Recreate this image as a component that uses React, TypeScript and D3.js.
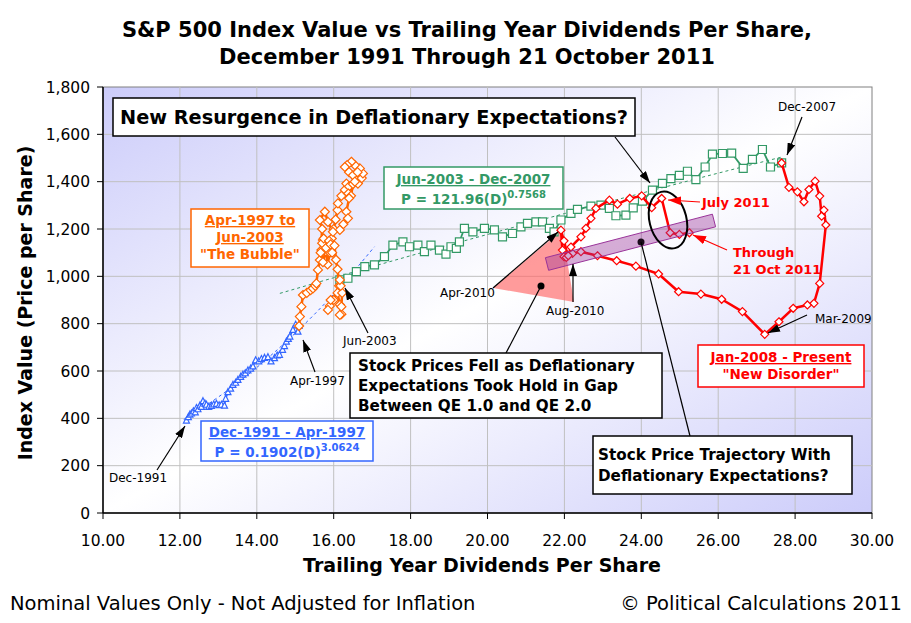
import React from 'react';
import * as d3 from 'd3';

const W = 911;
const H = 623;

const xTicks = [10, 12, 14, 16, 18, 20, 22, 24, 26, 28, 30];
const yTicks = [0, 200, 400, 600, 800, 1000, 1200, 1400, 1600, 1800];

// Dec-1991 to Apr-1997 (dividends, index)
const bluePoints: [number, number][] = [
  [12.17, 390], [12.22, 405], [12.26, 415], [12.3, 420], [12.35, 429], [12.4, 425],
  [12.43, 443], [12.47, 438], [12.52, 453], [12.56, 448], [12.6, 472], [12.65, 462],
  [12.69, 457], [12.75, 448], [12.82, 452], [12.88, 458], [12.95, 461], [13.02, 455],
  [13.08, 457], [13.16, 453], [13.19, 482], [13.25, 510], [13.32, 525], [13.38, 541],
  [13.45, 550], [13.51, 562], [13.58, 575], [13.64, 584], [13.7, 590], [13.77, 602],
  [13.84, 610], [13.9, 619], [13.97, 645], [14.05, 640], [14.12, 650], [14.2, 655],
  [14.29, 658], [14.37, 640], [14.46, 654], [14.53, 665], [14.59, 668], [14.67, 689],
  [14.72, 705], [14.77, 724], [14.82, 735], [14.86, 745], [14.94, 773], [15.01, 795],
  [15.07, 766], [15.1, 790],
];

// Apr-1997 to Jun-2003, "The Bubble"
const orangePoints: [number, number][] = [
  [15.1, 790], [15.12, 830], [15.16, 872], [15.2, 921], [15.3, 930], [15.4, 942],
  [15.46, 949], [15.52, 960], [15.55, 970], [15.59, 1027], [15.64, 1069], [15.68, 1111],
  [15.72, 1153], [15.7, 1140], [15.74, 1160], [15.8, 1105], [15.84, 1050], [15.9, 1100],
  [15.95, 1160], [16.0, 1200], [16.05, 1240], [16.1, 1280], [16.11, 1308], [16.2, 1340],
  [16.29, 1365], [16.33, 1392], [16.4, 1380], [16.38, 1350], [16.45, 1340], [16.5, 1390],
  [16.6, 1410], [16.63, 1392], [16.73, 1415], [16.76, 1435], [16.68, 1456], [16.55, 1470],
  [16.46, 1484], [16.35, 1470], [16.29, 1462], [16.4, 1440], [16.5, 1427], [16.62, 1440],
  [16.55, 1400], [16.4, 1330], [16.33, 1273], [16.37, 1245], [16.25, 1220], [16.16, 1196],
  [15.98, 1188], [15.85, 1230], [15.77, 1273], [15.64, 1238], [15.7, 1200], [15.66, 1100],
  [15.72, 1060], [15.8, 1120], [15.88, 1150], [15.92, 1135], [15.96, 1100], [16.02, 1130],
  [16.06, 1070], [16.1, 1030], [16.14, 960], [16.0, 900], [15.9, 875], [15.85, 858],
  [15.92, 900], [16.1, 930], [16.16, 880], [16.2, 840], [16.16, 837], [16.2, 872],
  [16.22, 930], [16.18, 960], [16.16, 985],
];

// Jun-2003 to Dec-2007
const greenPoints: [number, number][] = [
  [16.16, 985], [16.37, 992], [16.59, 1020], [16.81, 1041], [17.06, 1048], [17.32, 1083],
  [17.54, 1132], [17.8, 1146], [17.97, 1125], [18.19, 1132], [18.36, 1104], [18.53, 1132],
  [18.75, 1111], [18.92, 1094], [19.05, 1125], [19.19, 1118], [19.27, 1146], [19.4, 1203],
  [19.62, 1188], [19.92, 1203], [20.18, 1196], [20.39, 1167], [20.65, 1181], [20.87, 1209],
  [21.04, 1224], [21.26, 1230], [21.43, 1230], [21.61, 1203], [21.73, 1188], [21.91, 1238],
  [22.17, 1266], [22.34, 1283], [22.69, 1297], [22.95, 1301], [23.17, 1287], [23.34, 1256],
  [23.6, 1259], [23.79, 1289], [24.03, 1318], [24.29, 1364], [24.55, 1393], [24.77, 1413],
  [24.99, 1427], [25.2, 1444], [25.42, 1409], [25.66, 1462], [25.85, 1516], [26.11, 1519],
  [26.35, 1521], [26.65, 1456], [26.89, 1494], [27.15, 1536], [27.36, 1462], [27.65, 1479],
];

// Jan-2008 to 21 Oct 2011, "New Disorder"
const redPoints: [number, number][] = [
  [27.65, 1479], [27.84, 1376], [28.06, 1357], [28.23, 1315], [28.36, 1367], [28.52, 1402],
  [28.64, 1339], [28.69, 1254], [28.75, 1280], [28.8, 1217], [28.64, 970], [28.49, 886],
  [28.32, 879], [27.95, 865], [27.58, 808], [27.21, 755], [26.63, 851], [26.09, 903],
  [25.55, 925], [24.97, 935], [24.45, 1010], [23.86, 1043], [23.36, 1066], [22.86, 1087],
  [22.43, 1104], [22.21, 1097], [22.08, 1090], [21.99, 1150], [21.91, 1195], [21.95, 1111],
  [21.99, 1083], [22.05, 1080], [22.1, 1087], [22.17, 1124], [22.43, 1167], [22.56, 1203],
  [22.69, 1245], [22.82, 1287], [23.17, 1322], [23.38, 1305], [23.7, 1329], [24.01, 1340],
  [24.27, 1290], [24.53, 1329], [24.75, 1184], [24.99, 1177], [25.25, 1184],
];

// trend lines
const blueTrend: [number, number][] = [
  [12.1, 395], [13, 490], [14, 615], [15, 760], [16, 925], [17.06, 1125],
];
const greenTrend: [number, number][] = [
  [14.6, 928], [16, 994], [18, 1087], [20, 1177], [22, 1265], [24, 1351], [26, 1436], [27.7, 1506],
];

const FONT = 'DejaVu Sans, Verdana, sans-serif';
const BLUE = '#3366ff';
const ORANGE = '#ff6600';
const GREEN = '#339966';
const RED = '#ff0000';

const x = d3.scaleLinear().domain([10, 30]).range([103, 872]);
const y = d3.scaleLinear().domain([0, 1800]).range([513, 87]);

const line = d3
  .line<[number, number]>()
  .x(d => x(d[0]))
  .y(d => y(d[1]));

const trend = d3
  .line<[number, number]>()
  .x(d => x(d[0]))
  .y(d => y(d[1]))
  .curve(d3.curveMonotoneX);

const diamond = (r: number) => `M0,${-r}L${r},0L0,${r}L${-r},0Z`;
const square = (s: number) => `M${-s / 2},${-s / 2}h${s}v${s}h${-s}Z`;
const triangle = (s: number) => `M0,${-s * 0.6}L${s / 2},${s * 0.4}L${-s / 2},${s * 0.4}Z`;

const Series = ({
  pts,
  color,
  width,
  marker,
  markerFill = 'white',
}: {
  pts: [number, number][];
  color: string;
  width: number;
  marker: string;
  markerFill?: string;
}) => (
  <g>
    <path d={line(pts) || ''} fill="none" stroke={color} strokeWidth={width} strokeLinejoin="round" />
    {pts.map((d, i) => (
      <path
        key={i}
        d={marker}
        transform={`translate(${x(d[0])},${y(d[1])})`}
        fill={markerFill}
        stroke={color}
        strokeWidth={1.2}
      />
    ))}
  </g>
);

const Arrow = ({ x1, y1, x2, y2, color = '#000', head = true }: any) => (
  <line
    x1={x1}
    y1={y1}
    x2={x2}
    y2={y2}
    stroke={color}
    strokeWidth={1.2}
    markerEnd={head ? `url(#${color === '#000' ? 'ahBlack' : 'ahRed'})` : undefined}
  />
);

const Label = ({ x: lx, y: ly, children }: any) => (
  <text x={lx} y={ly} fontFamily={FONT} fontSize={12} fill="#000">
    {children}
  </text>
);

export default function App() {
  const [x0, x1] = x.range();
  const [y0, y1] = y.range();

  return (
    <svg
      width={W}
      height={H}
      viewBox={`0 0 ${W} ${H}`}
      style={{ position: 'absolute', left: 0, top: 0, background: '#fff' }}
    >
      <defs>
        <linearGradient id="plotBg" x1="0" y1="0" x2="1" y2="1">
          <stop offset="0" stopColor="#ccccfa" />
          <stop offset="0.5" stopColor="#ffffff" />
          <stop offset="1" stopColor="#ccccfa" />
        </linearGradient>
        <marker id="ahBlack" viewBox="0 0 12 8" refX="12" refY="4" markerWidth="12" markerHeight="8" orient="auto" markerUnits="userSpaceOnUse">
          <path d="M0,0L12,4L0,8Z" fill="#000" />
        </marker>
        <marker id="ahRed" viewBox="0 0 12 8" refX="12" refY="4" markerWidth="13" markerHeight="9" orient="auto" markerUnits="userSpaceOnUse">
          <path d="M0,0L12,4L0,8Z" fill={RED} />
        </marker>
      </defs>

      {/* Title */}
      <text x={467} y={37} textAnchor="middle" fontFamily={FONT} fontSize={21} fontWeight="bold">
        S&amp;P 500 Index Value vs Trailing Year Dividends Per Share,
      </text>
      <text x={467} y={64} textAnchor="middle" fontFamily={FONT} fontSize={21} fontWeight="bold">
        December 1991 Through 21 October 2011
      </text>

      {/* plot area */}
      <rect x={x0} y={y1} width={x1 - x0} height={y0 - y1} fill="url(#plotBg)" stroke="#808080" />
      {xTicks.slice(1, -1).map(t => (
        <line key={t} x1={x(t)} x2={x(t)} y1={y1} y2={y0} stroke="#c0c0c0" />
      ))}
      {yTicks.slice(1, -1).map(t => (
        <line key={t} x1={x0} x2={x1} y1={y(t)} y2={y(t)} stroke="#c0c0c0" />
      ))}

      {/* axes */}
      <line x1={x0} x2={x0} y1={y1} y2={y0} stroke="#000" strokeWidth={1.5} />
      <line x1={x0} x2={x1} y1={y0} y2={y0} stroke="#000" strokeWidth={1.5} />
      {yTicks.map(t => (
        <g key={t}>
          <line x1={x0 - 6} x2={x0} y1={y(t)} y2={y(t)} stroke="#000" />
          <text x={x0 - 13} y={y(t)} dy="0.36em" textAnchor="end" fontFamily={FONT} fontSize={15.5}>
            {d3.format(',')(t)}
          </text>
        </g>
      ))}
      {xTicks.map(t => (
        <g key={t}>
          <line x1={x(t)} x2={x(t)} y1={y0} y2={y0 + 6} stroke="#000" />
          <text x={x(t)} y={y0 + 33} textAnchor="middle" fontFamily={FONT} fontSize={15.5}>
            {d3.format('.2f')(t)}
          </text>
        </g>
      ))}
      <text x={482} y={572} textAnchor="middle" fontFamily={FONT} fontSize={19} fontWeight="bold">
        Trailing Year Dividends Per Share
      </text>
      <text
        transform="translate(32,303) rotate(-90)"
        textAnchor="middle"
        fontFamily={FONT}
        fontSize={19}
        fontWeight="bold"
      >
        Index Value (Price per Share)
      </text>

      {/* pink triangle */}
      <polygon points="493,288 562,230 574,302" fill="#ff6666" fillOpacity={0.65} />

      {/* trend lines */}
      <path d={trend(blueTrend) || ''} fill="none" stroke={BLUE} strokeWidth={1} strokeDasharray="3,3" />
      <path d={trend(greenTrend) || ''} fill="none" stroke={GREEN} strokeWidth={1} strokeDasharray="3,3" />

      {/* series */}
      <Series pts={bluePoints} color={BLUE} width={1.5} marker={triangle(6)} />
      <Series pts={greenPoints} color={GREEN} width={1.8} marker={square(8)} />
      <Series pts={orangePoints} color={ORANGE} width={2.5} marker={diamond(4.5)} />
      <Series pts={redPoints} color={RED} width={2.5} marker={diamond(4)} />

      {/* purple band */}
      <polygon
        points="545.4,257.7 548.6,270.3 715.6,226.8 712.4,214.2"
        fill="#993399"
        fillOpacity={0.4}
        stroke="#993399"
        strokeWidth={1}
      />
      <ellipse cx={668} cy={220} rx={18.5} ry={29} transform="rotate(-14 668 220)" fill="none" stroke="#000" strokeWidth={2} />
      <circle cx={541} cy={286} r={3.5} fill="#000" />
      <circle cx={641} cy={242} r={3.5} fill="#1a0a1a" />

      {/* arrows and pointer lines */}
      <Arrow x1={157} y1={470} x2={185} y2={426} />
      <Arrow x1={315} y1={372} x2={303} y2={340} />
      <Arrow x1={368} y1={333} x2={345} y2={288} />
      <Arrow x1={493} y1={288} x2={558} y2={232} />
      <Arrow x1={573} y1={302} x2={573} y2={264} />
      <Arrow x1={802} y1={117} x2={787} y2={155} />
      <Arrow x1={807} y1={315} x2={768} y2={333} />
      <Arrow x1={615} y1={137} x2={650} y2={183} />
      <Arrow x1={541} y1={286} x2={506} y2={353} head={false} />
      <Arrow x1={641} y1={242} x2={690} y2={436} head={false} />
      <Arrow x1={700} y1={202} x2={668} y2={200} color={RED} />
      <Arrow x1={727} y1={250} x2={693} y2={235} color={RED} />

      {/* small date labels */}
      <Label x={109} y={482}>Dec-1991</Label>
      <Label x={290} y={385}>Apr-1997</Label>
      <Label x={343} y={345}>Jun-2003</Label>
      <Label x={440} y={297}>Apr-2010</Label>
      <Label x={546} y={315}>Aug-2010</Label>
      <Label x={778} y={111}>Dec-2007</Label>
      <Label x={815} y={323}>Mar-2009</Label>

      {/* red callouts */}
      <g fontFamily={FONT} fontSize={13} fontWeight="bold" fill={RED}>
        <text x={702} y={207}>July 2011</text>
        <text x={733} y={257}>Through</text>
        <text x={733} y={274}>21 Oct 2011</text>
      </g>

      {/* big black boxes */}
      <rect x={113} y={98} width={522} height={38} fill="#fff" stroke="#000" strokeWidth={1.5} />
      <text x={120} y={124} fontFamily={FONT} fontSize={19.3} fontWeight="bold">
        New Resurgence in Deflationary Expectations?
      </text>

      <rect x={350} y={353} width={312} height={65} fill="#fff" stroke="#000" strokeWidth={1.5} />
      <g fontFamily={FONT} fontSize={15.2} fontWeight="bold">
        <text x={358} y={371}>Stock Prices Fell as Deflationary</text>
        <text x={358} y={391}>Expectations Took Hold in Gap</text>
        <text x={358} y={411}>Between QE 1.0 and QE 2.0</text>
      </g>

      <rect x={593} y={436} width={259} height={58} fill="#fff" stroke="#000" strokeWidth={1.5} />
      <g fontFamily={FONT} fontSize={15.2} fontWeight="bold">
        <text x={598} y={460}>Stock Price Trajectory With</text>
        <text x={598} y={481}>Deflationary Expectations?</text>
      </g>

      {/* period boxes */}
      <rect x={384} y={167} width={179} height={42} fill="#fff" stroke={GREEN} strokeWidth={1.5} />
      <g fontFamily={FONT} fontSize={13.5} fontWeight="bold" fill={GREEN} textAnchor="middle">
        <text x={473.5} y={184} textDecoration="underline">Jun-2003 - Dec-2007</text>
        <text x={473.5} y={204}>
          P = 121.96(D)<tspan dy={-6} fontSize={10}>0.7568</tspan>
        </text>
      </g>

      <rect x={191} y={209} width={118} height={58} fill="#fff" stroke={ORANGE} strokeWidth={1.5} />
      <g fontFamily={FONT} fontSize={13.5} fontWeight="bold" fill={ORANGE} textAnchor="middle">
        <text x={250} y={225} textDecoration="underline">Apr-1997 to</text>
        <text x={250} y={242} textDecoration="underline">Jun-2003</text>
        <text x={250} y={259}>"The Bubble"</text>
      </g>

      <rect x={201} y={421} width={172} height={40} fill="#fff" stroke={BLUE} strokeWidth={1.5} />
      <g fontFamily={FONT} fontSize={13.5} fontWeight="bold" fill={BLUE} textAnchor="middle">
        <text x={287} y={437} textDecoration="underline">Dec-1991 - Apr-1997</text>
        <text x={287} y={457}>
          P = 0.1902(D)<tspan dy={-6} fontSize={10}>3.0624</tspan>
        </text>
      </g>

      <rect x={698} y={345} width={166} height={42} fill="#fff" stroke={RED} strokeWidth={1.5} />
      <g fontFamily={FONT} fontSize={13.5} fontWeight="bold" fill={RED} textAnchor="middle">
        <text x={781} y={362} textDecoration="underline">Jan-2008 - Present</text>
        <text x={781} y={379}>"New Disorder"</text>
      </g>

      {/* footer */}
      <text x={10} y={610} fontFamily={FONT} fontSize={19.5}>
        Nominal Values Only - Not Adjusted for Inflation
      </text>
      <text x={902} y={610} textAnchor="end" fontFamily={FONT} fontSize={19.5}>
        © Political Calculations 2011
      </text>
    </svg>
  );
}
